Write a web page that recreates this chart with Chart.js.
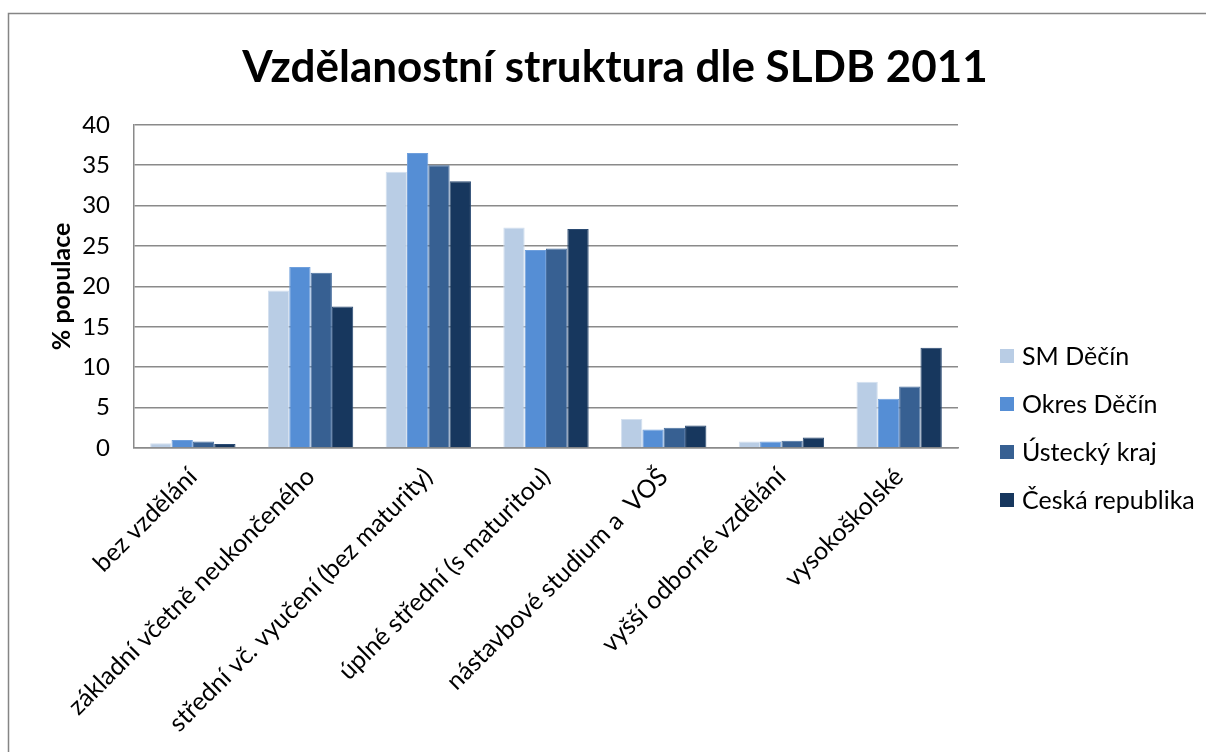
<!DOCTYPE html>
<html>
<head>
<meta charset="utf-8">
<title>Vzdělanostní struktura dle SLDB 2011</title>
<script src="https://cdn.jsdelivr.net/npm/chart.js@4.4.1/dist/chart.umd.min.js"></script>
<style>
  html, body { margin: 0; padding: 0; background: #ffffff; }
  #chart { display: block; }
</style>
</head>
<body>
<canvas id="chart" width="1206" height="752"></canvas>
<script>
// Education level categories (x axis)
const categories = [
  'bez vzdělání',
  'základní včetně neukončeného',
  'střední vč. vyučení (bez maturity)',
  'úplné střední (s maturitou)',
  'nástavbové studium a  VOŠ',
  'vyšší odborné vzdělání',
  'vysokoškolské'
];

// Series names
const seriesNames = ['SM Děčín', 'Okres Děčín', 'Ústecký kraj', 'Česká republika'];

// Share of population (%) per series
const smDecin     = [0.6, 19.5, 34.2, 27.3, 3.6, 0.8, 8.2];
const okresDecin  = [1.0, 22.4, 36.5, 24.5, 2.3, 0.8, 6.1];
const usteckyKraj = [0.8, 21.7, 35.0, 24.7, 2.5, 0.9, 7.6];
const ceskaRep    = [0.5, 17.5, 33.0, 27.1, 2.8, 1.3, 12.4];

// Y axis tick range
const yMin = 0;
const yMax = 40;
const yStep = 5;

const seriesValues = [smDecin, okresDecin, usteckyKraj, ceskaRep];
const fillColors = ['#b9cde5', '#558ed5', '#376092', '#17375e'];
const edgeColors = ['#d3e0ef', '#6f9fdc', '#4a709f', '#2a4a72'];

const FONT = 'Lato, "Open Sans", sans-serif';
const GRID = '#8a8a8a';

// Outer frame of the chart object
const framePlugin = {
  id: 'frame',
  beforeDraw(chart) {
    const ctx = chart.ctx;
    ctx.save();
    ctx.fillStyle = '#ffffff';
    ctx.fillRect(0, 0, chart.width, chart.height);
    ctx.strokeStyle = '#858585';
    ctx.lineWidth = 1.5;
    ctx.beginPath();
    ctx.moveTo(8.5, chart.height + 5);
    ctx.lineTo(8.5, 13.5);
    ctx.lineTo(chart.width + 5, 13.5);
    ctx.stroke();
    ctx.restore();
  }
};

// Legend drawn as a column to the right of the plot
const sideLegend = {
  id: 'sideLegend',
  afterDraw(chart) {
    const ctx = chart.ctx;
    const x0 = 1000, yFirst = 356, gap = 48, box = 14;
    ctx.save();
    ctx.font = '25px ' + FONT;
    ctx.textBaseline = 'middle';
    ctx.textAlign = 'left';
    chart.data.datasets.forEach((ds, i) => {
      const y = yFirst + i * gap;
      ctx.fillStyle = ds.backgroundColor;
      ctx.fillRect(x0, y - box / 2, box, box);
      ctx.fillStyle = '#000000';
      ctx.fillText(ds.label, x0 + 22, y + 1);
    });
    ctx.restore();
  }
};

new Chart(document.getElementById('chart'), {
  type: 'bar',
  data: {
    labels: categories,
    datasets: seriesNames.map((name, i) => ({
      label: name,
      data: seriesValues[i],
      backgroundColor: fillColors[i],
      borderColor: edgeColors[i],
      borderWidth: 1,
      categoryPercentage: 0.725,
      barPercentage: 1.0
    }))
  },
  options: {
    responsive: false,
    animation: false,
    devicePixelRatio: 1,
    layout: { padding: { left: 24, right: 0, top: 13, bottom: 0 } },
    plugins: {
      legend: { display: false },
      tooltip: { enabled: false },
      title: {
        display: true,
        text: 'Vzdělanostní struktura dle SLDB 2011',
        color: '#000000',
        font: { family: FONT, size: 44, weight: 'bold', lineHeight: 1.2 },
        padding: { top: 28, bottom: 31 }
      }
    },
    scales: {
      x: {
        grid: { display: false, drawTicks: false },
        border: { display: true, color: GRID, width: 1.5 },
        ticks: {
          color: '#000000',
          font: { family: FONT, size: 25 },
          minRotation: 45,
          maxRotation: 45,
          autoSkip: false,
          padding: 14
        },
        afterFit(scale) { scale.height = 304; }
      },
      y: {
        min: yMin,
        max: yMax,
        grid: { color: GRID, lineWidth: 1.5, drawTicks: false },
        border: { display: true, color: GRID, width: 1.5 },
        ticks: {
          stepSize: yStep,
          color: '#000000',
          font: { family: FONT, size: 24 },
          padding: 24
        },
        title: {
          display: true,
          text: '% populace',
          color: '#000000',
          font: { family: FONT, size: 25, weight: 'bold', lineHeight: 1.2 },
          padding: { top: 23, bottom: 0 }
        },
        afterFit(scale) { scale.width = 110; }
      },
      // Empty right-hand band that holds the legend column
      legendBand: {
        position: 'right',
        display: true,
        grid: { display: false, drawTicks: false },
        border: { display: false },
        ticks: { display: false },
        afterFit(scale) { scale.width = 248; }
      }
    }
  },
  plugins: [framePlugin, sideLegend]
});
</script>
</body>
</html>
